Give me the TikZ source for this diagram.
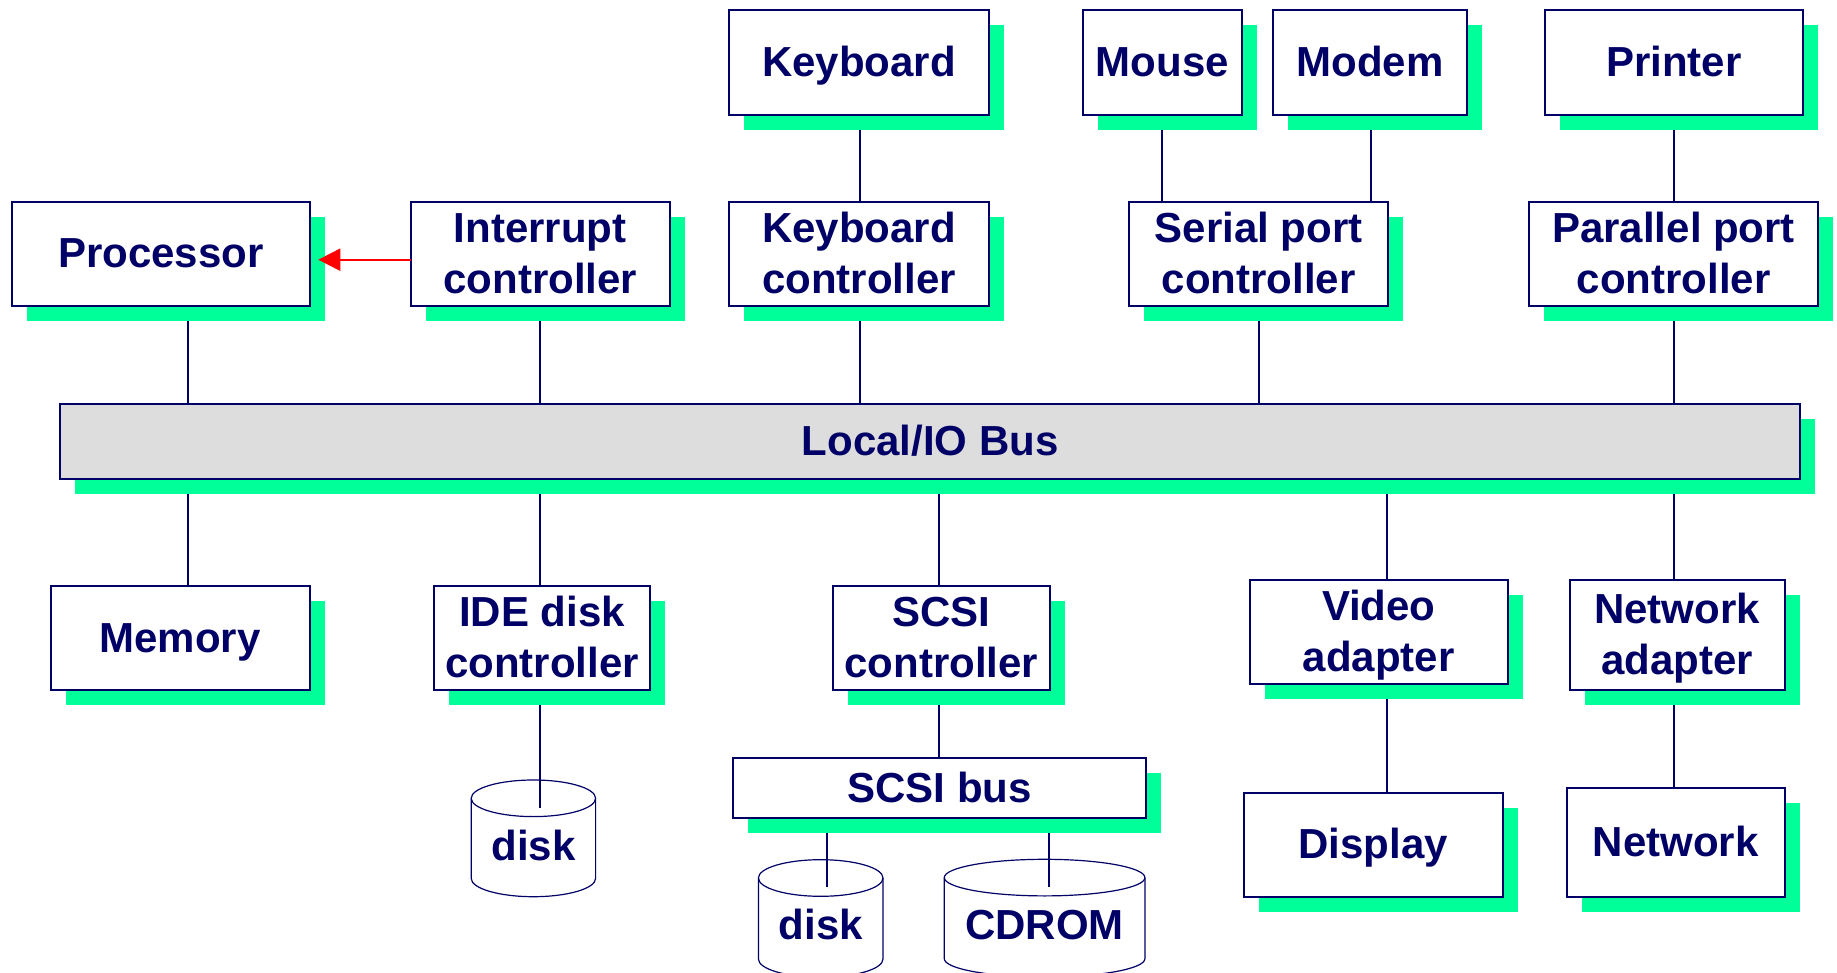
\documentclass[tikz,border=0pt]{standalone}
\usepackage{fontspec}
\setmainfont{Liberation Sans}
\usetikzlibrary{shadows,backgrounds,arrows.meta}
\definecolor{navy}{RGB}{0,0,102}
\definecolor{sgreen}{RGB}{0,255,153}
\definecolor{busgray}{RGB}{221,221,221}
\newcommand{\topstr}{\rule{0pt}{38pt}}
\newcommand{\botstr}{\rule[-10pt]{0pt}{10pt}}
\newcommand{\drawcyl}[5]{% cx yt yb rx ry
  \draw[cyl] ({#1-#4},#2) -- ({#1-#4},#3)
    .. controls ({#1-#4},{#3+0.5523*#5}) and ({#1-0.5523*#4},{#3+#5}) .. ({#1},{#3+#5})
    .. controls ({#1+0.5523*#4},{#3+#5}) and ({#1+#4},{#3+0.5523*#5}) .. ({#1+#4},#3)
    -- ({#1+#4},#2);
  \draw[cyl] (#1,#2) ellipse[x radius=#4pt, y radius=#5pt];}
\begin{document}
\begin{tikzpicture}[x=1pt,y=-1pt,
  box/.style={draw=navy, line width=2pt, fill=white, text=navy, inner sep=0pt, outer sep=0pt,
    align=center, font=\fontsize{42}{50.6}\selectfont\bfseries,
    drop shadow={shadow xshift=15pt, shadow yshift=-15pt, fill=sgreen, opacity=1}},
  one/.style={text height=38pt, text depth=10pt},
  two/.style={text height=88.6pt, text depth=10pt},
  sz/.style 2 args={minimum width=#1pt, minimum height=#2pt},
  link/.style={draw=navy, line width=2pt},
  cyl/.style={draw=navy, line width=1.2pt},
  lbl/.style={text=navy, inner sep=0pt, font=\fontsize{42}{50.6}\selectfont\bfseries,
    execute at begin node=\topstr, execute at end node=\botstr},
  redarrow/.style={draw=red, line width=2pt, -{Triangle[length=22pt,width=22pt]}}
]
\useasboundingbox (0,0) rectangle (1837,973);

% boxes
\node[box, one, sz={298}{104}] (proc) at (160.75,254) {Processor};
\node[box, two, sz={259.5}{104}] (intc) at (540.25,254) {Interrupt\\controller};
\node[box, two, sz={259.3}{104}] (kbc) at (858.95,254) {Keyboard\\controller};
\node[box, one, sz={259.3}{104.4}] (kb) at (858.95,62.5) {Keyboard};
\node[box, one, sz={159.5}{104.4}] (mouse) at (1162.25,62.5) {Mouse};
\node[box, one, sz={193.6}{104.4}] (modem) at (1370,62.5) {Modem};
\node[box, one, sz={258.2}{104.4}] (printer) at (1673.9,62.5) {Printer};
\node[box, two, sz={258.8}{104}] (serial) at (1258.8,254) {Serial port\\controller};
\node[box, two, sz={289.2}{104}] (par) at (1673.6,254) {Parallel port\\controller};
\node[box, one, fill=busgray, sz={1739.6}{75}] (bus) at (930.2,441.8) {Local/IO Bus};
\node[box, one, sz={259.3}{104}] (mem) at (180.15,638) {Memory};
\node[box, two, sz={215.9}{104}] (ide) at (542.15,638) {IDE disk\\controller};
\node[box, two, sz={216.4}{104}] (scsic) at (941.4,638) {SCSI\\controller};
\node[box, one, sz={412.4}{59.4}] (scsib) at (939.6,788) {SCSI bus};
\node[box, two, sz={258.2}{104.3}] (video) at (1378.8,631.85) {Video\\adapter};
\node[box, two, sz={215.3}{110.3}] (netad) at (1677.15,634.85) {Network\\adapter};
\node[box, one, sz={258.8}{103.7}] (display) at (1373.2,844.85) {Display};
\node[box, one, sz={218.3}{109}] (network) at (1675.65,842.2) {Network};

% cylinders
\drawcyl{533.4}{798.3}{878.4}{62.2}{18.3}
\drawcyl{820.7}{878}{959}{62.3}{18.3}
\drawcyl{1044.6}{877.6}{958.7}{100.3}{18.3}
\node[lbl] (d1) at (533.4,846.5) {disk};
\node[lbl] (d2) at (820.7,925.5) {disk};
\node[lbl] (cd) at (1044.6,925.5) {CDROM};

% connector x positions and free ends
\coordinate (xa) at (188.3,0);
\coordinate (xb) at (540.4,0);
\coordinate (xc) at (860,0);
\coordinate (xd) at (1258.5,0);
\coordinate (xe) at (1673.9,0);
\coordinate (xf) at (1162.3,0);
\coordinate (xg) at (1370.6,0);
\coordinate (xh) at (939.3,0);
\coordinate (xi) at (1387,0);
\coordinate (d1end) at (540.4,807.7);
\coordinate (d2end) at (827,887.3);
\coordinate (cdend) at (1049.3,887.3);

\begin{scope}[on background layer]
\draw[link] (proc.south -| xa) -- (bus.north -| xa);
\draw[link] (intc.south -| xb) -- (bus.north -| xb);
\draw[link] (kbc.south -| xc) -- (bus.north -| xc);
\draw[link] (serial.south -| xd) -- (bus.north -| xd);
\draw[link] (par.south -| xe) -- (bus.north -| xe);
\draw[link] (kb.south -| xc) -- (kbc.north -| xc);
\draw[link] (mouse.south -| xf) -- (serial.north -| xf);
\draw[link] (modem.south -| xg) -- (serial.north -| xg);
\draw[link] (printer.south -| xe) -- (par.north -| xe);
\draw[link] (bus.south -| xa) -- (mem.north -| xa);
\draw[link] (bus.south -| xb) -- (ide.north -| xb);
\draw[link] (bus.south -| xh) -- (scsic.north -| xh);
\draw[link] (bus.south -| xi) -- (video.north -| xi);
\draw[link] (bus.south -| xe) -- (netad.north -| xe);
\draw[link] (ide.south -| xb) -- (d1end);
\draw[link] (scsic.south -| xh) -- (scsib.north -| xh);
\draw[link] (scsib.south -| d2end) -- (d2end);
\draw[link] (scsib.south -| cdend) -- (cdend);
\draw[link] (video.south -| xi) -- (display.north -| xi);
\draw[link] (netad.south -| xe) -- (network.north -| xe);
\end{scope}

% interrupt arrow
\draw[redarrow] ([yshift=-5.7pt]intc.west) -- ([xshift=8.5pt,yshift=-5.7pt]proc.east);
\end{tikzpicture}
\end{document}
